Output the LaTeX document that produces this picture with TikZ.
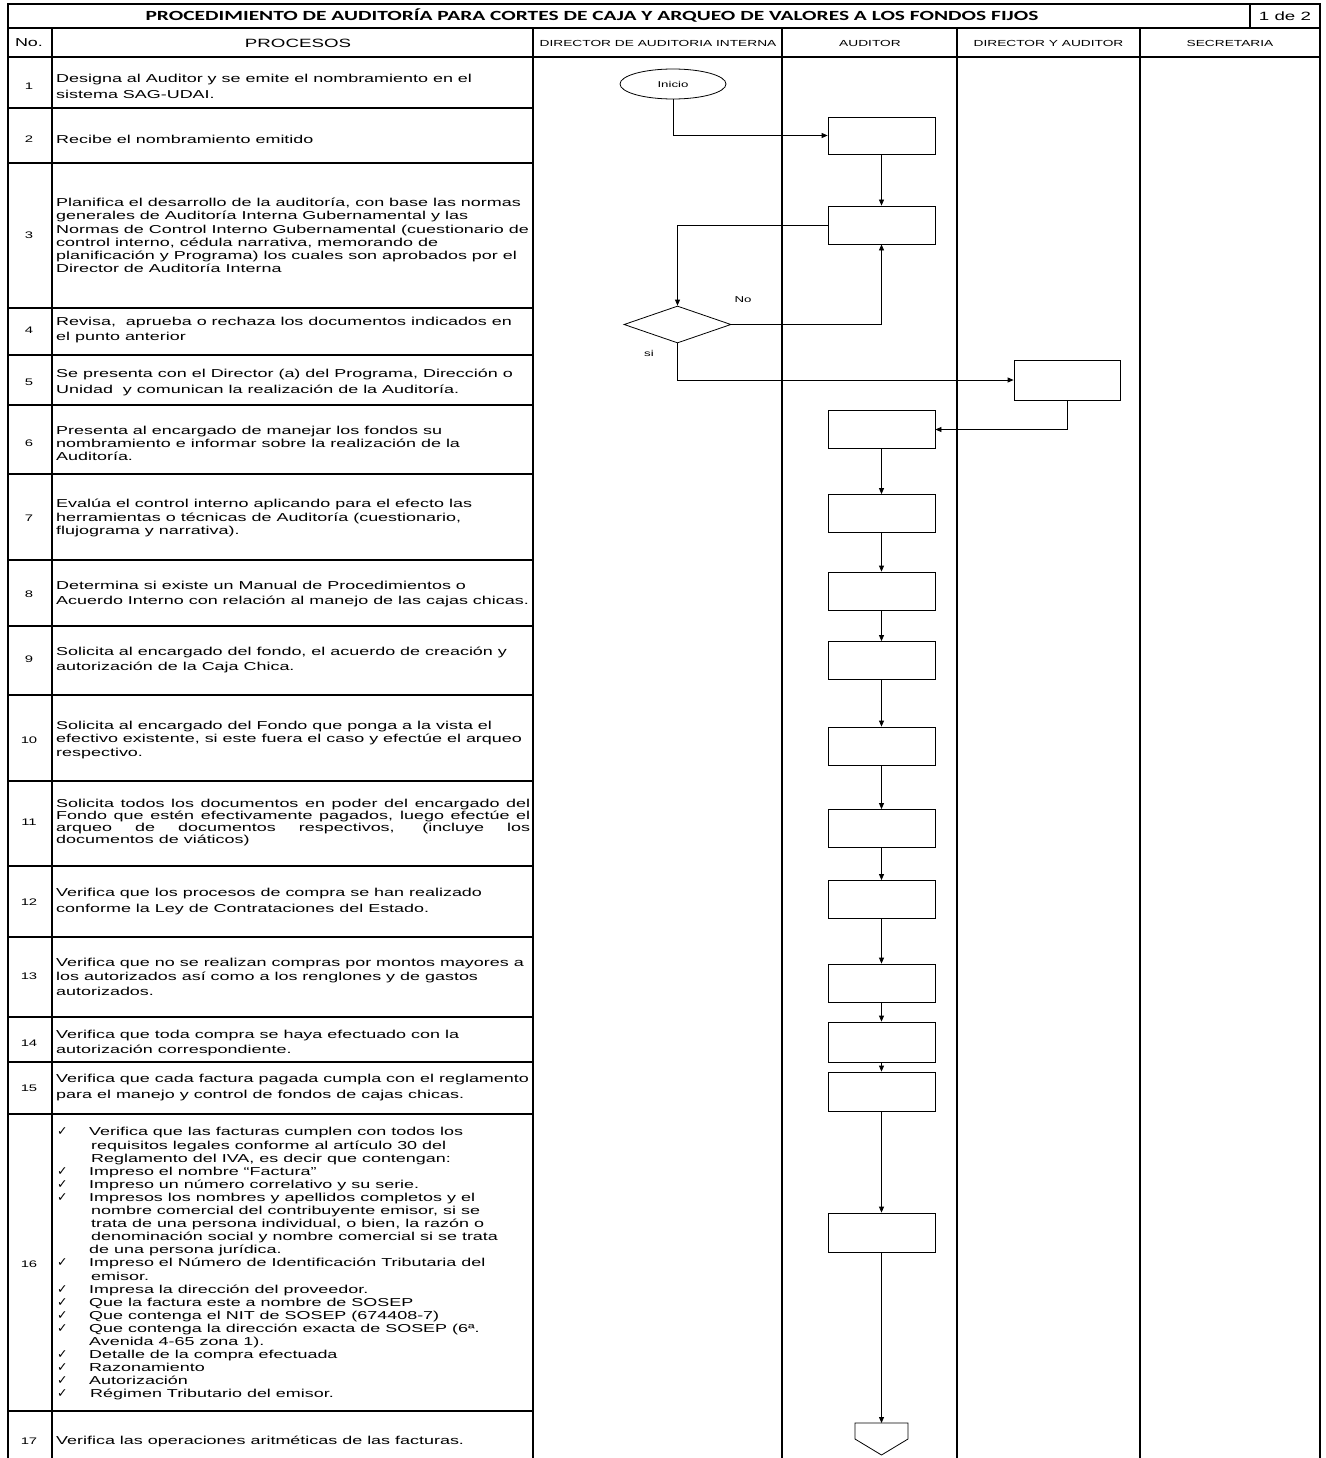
\documentclass[tikz,border=0pt]{standalone}
\usepackage{fontspec}
\usetikzlibrary{shapes.geometric,arrows.meta}
\newfontfamily\arialx[FakeStretch=1.56]{Liberation Sans}
\newfontfamily\titlefont[FakeStretch=1.53]{Carlito}
\newfontfamily\symfont{DejaVu Sans}
\newcommand\prtxt[1]{\arialx\fontsize{11.5}{#1}\selectfont}
\newcommand\smtxt{\arialx\fontsize{8.5}{10}\selectfont}
\newcommand\ck{{\symfont\fontsize{12.5}{10}\selectfont ✓}}
\newcommand\jline[1]{\makebox[474pt][s]{#1}}
\tikzset{
  grid/.style={line width=1.3pt},
  flowbox/.style={draw, line width=0.8pt, minimum width=107pt, minimum height=38pt, inner sep=0pt},
  flow/.style={line width=0.8pt, -{Triangle[length=6pt,width=5pt]}},
  proctext/.style={anchor=west, align=left, inner sep=0pt, font=\prtxt{14.5}},
  numtext/.style={inner sep=0pt, font=\arialx\fontsize{9.5}{11}\selectfont},
  lanetext/.style={inner sep=0pt, font=\arialx\fontsize{8.8}{11}\selectfont}
}
\begin{document}
\begin{tikzpicture}[x=1pt, y=-1pt]
  \useasboundingbox (0,0) rectangle (1325,1458);

  % table frame
  \draw[grid] (8,1458) -- (8,4) -- (1320,4) -- (1320,1458);
  \draw[grid] (8,28) -- (1320,28);
  \draw[grid] (1250,4) -- (1250,28);
  \draw[grid] (8,57) -- (1320,57);
  \draw[line width=2pt] (52,28) -- (52,1458);
  \foreach \x in {533,782,957,1140}
    \draw[grid] (\x,28) -- (\x,1458);
  \foreach \y in {108,163,308,355,405,474,560,626,695,781,866,937,1017,1062,1114,1411}
    \draw[grid] (8,\y) -- (533,\y);

  % headings
  \node[inner sep=0pt, font=\titlefont\bfseries\fontsize{14}{16}\selectfont] (title) at (592,16)
    {PROCEDIMIENTO DE AUDITORÍA PARA CORTES DE CAJA Y ARQUEO DE VALORES A LOS FONDOS FIJOS};
  \node[inner sep=0pt, font=\arialx\fontsize{12}{14}\selectfont] (page) at (1285,16) {1 de 2};
  \node[inner sep=0pt, font=\arialx\fontsize{11.5}{14}\selectfont] (hno) at (29,43) {No.};
  \node[inner sep=0pt, font=\arialx\fontsize{12}{14}\selectfont] (hproc) at (298,43) {PROCESOS};
  \node[lanetext] (hdir) at (658,43) {DIRECTOR DE AUDITORIA INTERNA};
  \node[lanetext] (haud) at (870,43) {AUDITOR};
  \node[lanetext] (hdya) at (1048.5,43) {DIRECTOR Y AUDITOR};
  \node[lanetext] (hsec) at (1230,43) {SECRETARIA};

  % step numbers
  \foreach \n/\y in {1/86,2/139,3/235.5,4/330.5,5/382,6/443,7/518,8/594,9/659.5,10/740,
                     11/822.5,12/902,13/976.5,14/1043.5,15/1088,16/1264,17/1441}
    \node[numtext] (n\n) at (29,\y) {\n};

  % step texts
  \node[proctext, font=\prtxt{16}] (t1) at (56,86)
    {Designa al Auditor y se emite el nombramiento en el\\sistema SAG-UDAI.};
  \node[proctext] (t2) at (56,139) {Recibe el nombramiento emitido};
  \node[proctext, font=\prtxt{13.2}] (t3) at (56,235.5)
    {Planifica el desarrollo de la auditoría, con base las normas\\
     generales de Auditoría Interna Gubernamental y las\\
     Normas de Control Interno Gubernamental (cuestionario de\\
     control interno, cédula narrativa, memorando de\\
     planificación y Programa) los cuales son aprobados por el\\
     Director de Auditoría Interna};
  \node[proctext, font=\prtxt{15}] (t4) at (56,330.5)
    {Revisa,\ \ aprueba o rechaza los documentos indicados en\\el punto anterior};
  \node[proctext, font=\prtxt{16}] (t5) at (56,382)
    {Se presenta con el Director (a) del Programa, Dirección o\\Unidad\ \ y comunican la realización de la Auditoría.};
  \node[proctext, font=\prtxt{13}] (t6) at (56,443)
    {Presenta al encargado de manejar los fondos su\\nombramiento e informar sobre la realización de la\\Auditoría.};
  \node[proctext, font=\prtxt{13.5}] (t7) at (56,518)
    {Evalúa el control interno aplicando para el efecto las\\herramientas o técnicas de Auditoría (cuestionario,\\flujograma y narrativa).};
  \node[proctext] (t8) at (56,594)
    {Determina si existe un Manual de Procedimientos o\\Acuerdo Interno con relación al manejo de las cajas chicas.};
  \node[proctext, font=\prtxt{15}] (t9) at (56,659.5)
    {Solicita al encargado del fondo, el acuerdo de creación y\\autorización de la Caja Chica.};
  \node[proctext, font=\prtxt{13.5}] (t10) at (56,740)
    {Solicita al encargado del Fondo que ponga a la vista el\\efectivo existente, si este fuera el caso y efectúe el arqueo\\respectivo.};
  \node[proctext, font=\prtxt{12.3}] (t11) at (56,822.5)
    {\jline{Solicita todos los documentos en poder del encargado del}\\
     \jline{Fondo que estén efectivamente pagados, luego efectúe el}\\
     \jline{arqueo de documentos respectivos, (incluye los}\\
     documentos de viáticos)};
  \node[proctext, font=\prtxt{16}] (t12) at (56,902)
    {Verifica que los procesos de compra se han realizado\\conforme la Ley de Contrataciones del Estado.};
  \node[proctext] (t13) at (56,976.5)
    {Verifica que no se realizan compras por montos mayores a\\los autorizados así como a los renglones y de gastos\\autorizados.};
  \node[proctext, font=\prtxt{15}] (t14) at (56,1043.5)
    {Verifica que toda compra se haya efectuado con la\\autorización correspondiente.};
  \node[proctext, font=\prtxt{16}] (t15) at (56,1088)
    {Verifica que cada factura pagada cumpla con el reglamento\\para el manejo y control de fondos de cajas chicas.};
  \node[proctext, font=\prtxt{13.1}] (t16) at (57,1264)
    {\makebox[32pt][l]{\ck}Verifica que las facturas cumplen con todos los\\
     \hspace*{34pt}requisitos legales conforme al artículo 30 del\\
     \hspace*{34pt}Reglamento del IVA, es decir que contengan:\\
     \makebox[32pt][l]{\ck}Impreso el nombre “Factura”\\
     \makebox[32pt][l]{\ck}Impreso un número correlativo y su serie.\\
     \makebox[32pt][l]{\ck}Impresos los nombres y apellidos completos y el\\
     \hspace*{34pt}nombre comercial del contribuyente emisor, si se\\
     \hspace*{34pt}trata de una persona individual, o bien, la razón o\\
     \hspace*{34pt}denominación social y nombre comercial si se trata\\
     \hspace*{32pt}de una persona jurídica.\\
     \makebox[32pt][l]{\ck}Impreso el Número de Identificación Tributaria del\\
     \hspace*{34pt}emisor.\\
     \makebox[32pt][l]{\ck}Impresa la dirección del proveedor.\\
     \makebox[32pt][l]{\ck}Que la factura este a nombre de SOSEP\\
     \makebox[32pt][l]{\ck}Que contenga el NIT de SOSEP (674408-7)\\
     \makebox[32pt][l]{\ck}Que contenga la dirección exacta de SOSEP (6ª.\\
     \hspace*{32pt}Avenida 4-65 zona 1).\\
     \makebox[32pt][l]{\ck}Detalle de la compra efectuada\\
     \makebox[32pt][l]{\ck}Razonamiento\\
     \makebox[32pt][l]{\ck}Autorización\\
     \makebox[33pt][l]{\ck}Régimen Tributario del emisor.};
  \node[proctext] (t17) at (56,1441) {Verifica las operaciones aritméticas de las facturas.};

  % flow
  \node[draw, ellipse, line width=0.8pt, minimum width=106pt, minimum height=30pt, inner sep=0pt, font=\smtxt]
    (ini) at (673,84) {Inicio};
  \node[flowbox, minimum height=37pt] (b2) at (881.5,135.5) {};
  \node[flowbox] (b3) at (881.5,225) {};
  \node[draw, diamond, line width=0.8pt, minimum width=107pt, minimum height=37pt, inner sep=0pt]
    (dec) at (677.5,324.5) {};
  \node[flowbox, minimum width=106pt, minimum height=40pt] (b5) at (1067,380) {};
  \node[flowbox] (b6) at (881.5,429.5) {};
  \node[flowbox] (b7) at (881.5,513.5) {};
  \node[flowbox] (b8) at (881.5,591) {};
  \node[flowbox] (b9) at (881.5,660.5) {};
  \node[flowbox] (b10) at (881.5,746) {};
  \node[flowbox] (b11) at (881.5,828.5) {};
  \node[flowbox] (b12) at (881.5,899.5) {};
  \node[flowbox] (b13) at (881.5,983) {};
  \node[flowbox, minimum height=40pt] (b14) at (881.5,1042) {};
  \node[flowbox, minimum height=39pt] (b15) at (881.5,1091.5) {};
  \node[flowbox, minimum height=39pt] (b16) at (881.5,1232.5) {};
  \coordinate (conn) at (881.5,1423);
  \draw[line width=0.8pt] (855,1423) -- (908,1423) -- (908,1439) -- (881.5,1455) -- (855,1439) -- cycle;

  \node[inner sep=0pt, font=\smtxt] (lno) at (743,300) {No};
  \node[inner sep=0pt, font=\smtxt] (lsi) at (649,353) {si};

  \draw[flow] (ini.south) |- (b2.west);
  \draw[flow] (b2) -- (b3);
  \draw[flow] (b3.west) -| (dec.north);
  \draw[flow] (dec.east) -| (b3.south);
  \draw[flow] (dec.south) |- (b5.west);
  \draw[flow] (b5.south) |- (b6.east);
  \foreach \a/\b in {b6/b7,b7/b8,b8/b9,b9/b10,b10/b11,b11/b12,b12/b13,b13/b14,b14/b15,b15/b16}
    \draw[flow] (\a) -- (\b);
  \draw[flow] (b16) -- (conn);
\end{tikzpicture}
\end{document}
